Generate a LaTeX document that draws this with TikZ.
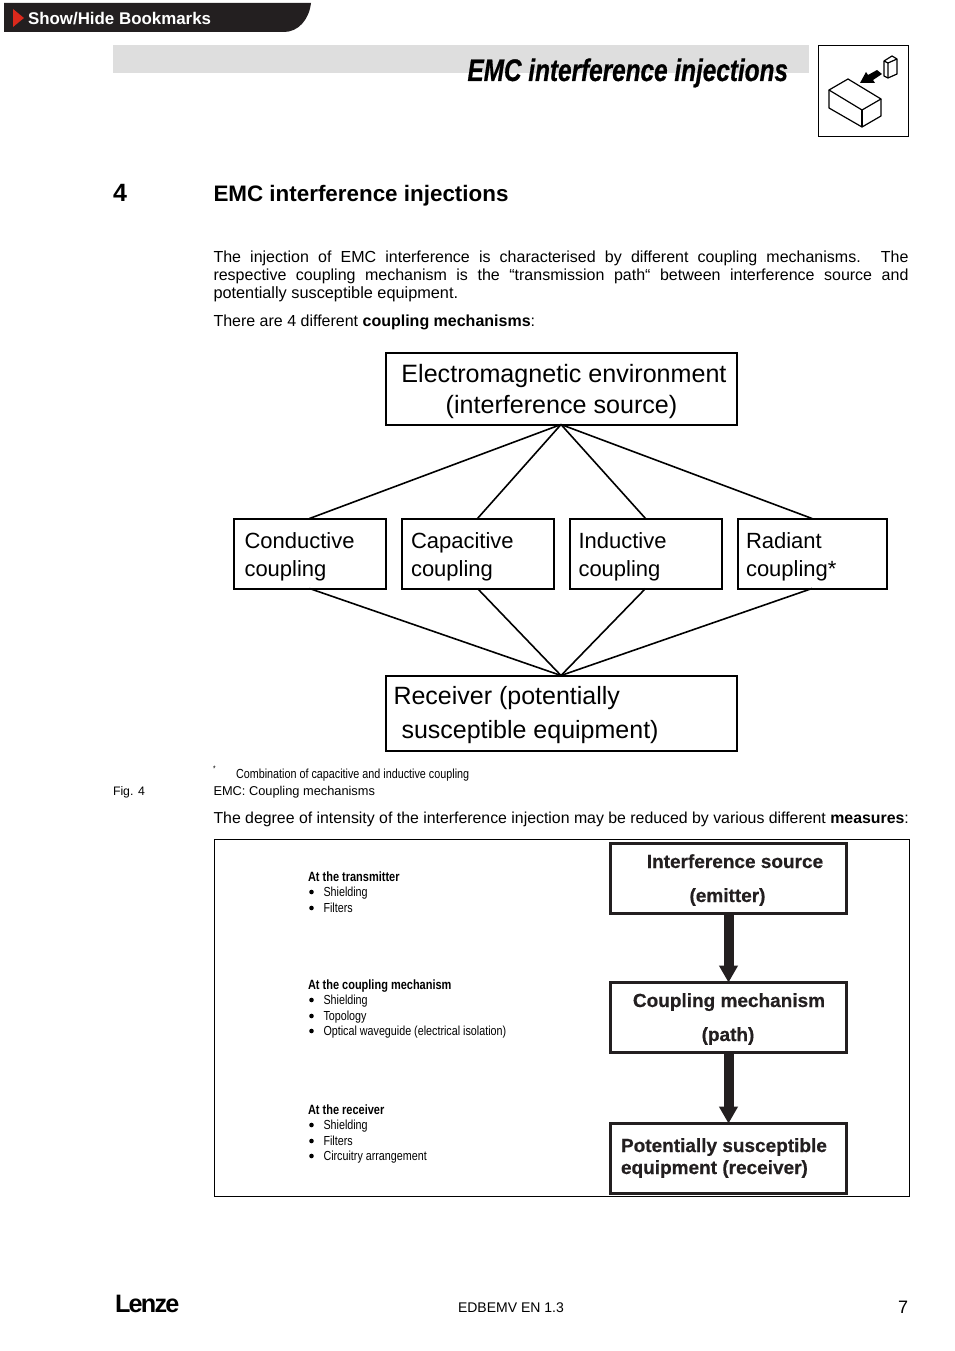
\documentclass[tikz,border=0pt]{standalone}
\usepackage{fontspec}
\setmainfont{Liberation Sans}
\newfontfamily\narrowf[FakeStretch=0.82]{Liberation Sans}
\newfontfamily\titlef[FakeStretch=0.78,FakeBold=0.6]{Liberation Sans}
\newfontfamily\heavyf[FakeBold=0.5]{Liberation Sans}
\usetikzlibrary{arrows.meta}
\definecolor{barblack}{HTML}{231F20}
\definecolor{bargray}{HTML}{DEDEDE}
\definecolor{tri}{HTML}{DA291C}
\tikzset{
  txt/.style={anchor=base west,inner sep=0pt,outer sep=0pt},
  fs/.style={font=\fontsize{#1}{#1}\selectfont},
  bigbox/.style={draw=black,line width=2pt,fill=white,inner sep=0pt,outer sep=0pt},
  flowbox/.style={draw=barblack,line width=3pt,fill=white,inner sep=0pt,outer sep=0pt},
  thin line/.style={draw=black,line width=1.6pt},
  thick arrow/.style={draw=barblack,line width=10pt,-{Triangle[length=17pt,width=18pt]}},
  bul/.style={circle,fill=black,inner sep=0pt,minimum size=4.6pt},
}
\begin{document}
\begin{tikzpicture}[x=1pt,y=-1pt]
\useasboundingbox (0,0) rectangle (954,1351);
% bookmark bar
\fill[barblack] (4,3) -- (311,3) .. controls (309,20) and (298,32) .. (284,32) -- (4,32) -- cycle;
\fill[tri] (13,9) -- (24,18) -- (13,27) -- cycle;
\node[txt,text=white,font=\bfseries\fontsize{16.9}{17}\selectfont] (bm) at (28,24.5) {Show/Hide Bookmarks};
% header
\fill[bargray] (113,45) rectangle (809,73);
\node[txt,anchor=base east,font=\titlef\bfseries\itshape\fontsize{31.2}{31}\selectfont] (hd) at (788,81) {EMC interference injections};
\draw[line width=0.9pt] (818.5,45.5) rectangle (908.5,136.5);
% icon
\begin{scope}[line width=1.2pt,line join=round]
\draw (829,90) -- (848,79) -- (881,99) -- (862,110) -- cycle;
\draw (829,90) -- (829,108) -- (862,127) -- (881,116) -- (881,99);
\draw (862,110) -- (862,127);
\draw (884,61) -- (892,56) -- (897,59) -- (897,74) -- (888,78) -- (884,76) -- cycle;
\draw (884,61) -- (888,63) -- (888,78);
\draw (888,63) -- (897,59);
\end{scope}
\fill[black] (860,83) -- (866,72) -- (868,75) -- (877,70) -- (882,74) -- (873,80) -- (875,83) -- cycle;
% heading
\node[txt,font=\bfseries\fontsize{25}{25}\selectfont] (num) at (113,201) {4};
\node[txt,font=\bfseries\fontsize{22.4}{22}\selectfont] (h1) at (213.5,201) {EMC interference injections};
\node[txt,fs=16] (p1l) at (213.5,262) {\makebox[695pt][s]{The injection of EMC interference is characterised by different coupling mechanisms. The}};
\node[txt,fs=16] (p2l) at (213.5,280) {\makebox[695pt][s]{respective coupling mechanism is the “transmission path“ between interference source and}};
\node[txt,fs=16.3] (p3l) at (213.5,298) {potentially susceptible equipment.};
\node[txt,fs=16] (t4) at (213.5,326) {There are 4 different \textbf{coupling mechanisms}:};
% first diagram
\node[bigbox,minimum width=351pt,minimum height=72pt] (env) at (561,388.5) {};
\node[txt,anchor=base,fs=25.1] (e1) at (564,382.5) {Electromagnetic environment};
\node[txt,anchor=base,fs=25.1] (e2) at (561.5,413.5) {(interference source)};
\node[bigbox,minimum width=152pt,minimum height=70pt] (con) at (309.5,553.5) {};
\node[bigbox,minimum width=152pt,minimum height=70pt] (cap) at (477.5,553.5) {};
\node[bigbox,minimum width=152pt,minimum height=70pt] (ind) at (645.5,553.5) {};
\node[bigbox,minimum width=149pt,minimum height=70pt] (rad) at (812,553.5) {};
\node[bigbox,minimum width=351pt,minimum height=75pt] (rec) at (561,713) {};
\foreach \n in {con,cap,ind,rad}{
  \draw[thin line] (env.south) -- (\n.north);
  \draw[thin line] (rec.north) -- (\n.south);
}
\node[txt,fs=22] (l1a) at (244.5,548) {Conductive};
\node[txt,fs=22] (l1b) at (244.5,576) {coupling};
\node[txt,fs=22] (l2a) at (411,548) {Capacitive};
\node[txt,fs=22] (l2b) at (411,576) {coupling};
\node[txt,fs=22] (l3a) at (578.5,548) {Inductive};
\node[txt,fs=22] (l3b) at (578.5,576) {coupling};
\node[txt,fs=22] (l4a) at (746,548) {Radiant};
\node[txt,fs=22] (l4b) at (746,576) {coupling*};
\node[txt,fs=25] (r1) at (393.5,704.5) {Receiver (potentially};
\node[txt,fs=25] (r2) at (401.5,738.5) {susceptible equipment)};
% notes
\node[txt,font=\narrowf\fontsize{8}{8}\selectfont] (star) at (213,771) {*};
\node[txt,font=\narrowf\fontsize{13.15}{14}\selectfont] (note) at (236,778) {Combination of capacitive and inductive coupling};
\node[txt,fs=12.3] (fig) at (113,795.5) {Fig. 4};
\node[txt,fs=12.8] (cap4) at (213.5,795.5) {EMC: Coupling mechanisms};
\node[txt,font=\fontsize{15.86}{16}\selectfont] (deg) at (213.5,823) {The degree of intensity of the interference injection may be reduced by various different \textbf{measures}:};
% second diagram
\draw[line width=0.9pt] (214.5,839) rectangle (909.5,1196.5);
\node[flowbox,minimum width=236pt,minimum height=70pt] (src) at (728.5,878.5) {};
\node[flowbox,minimum width=236pt,minimum height=70pt] (cpl) at (728.5,1017.5) {};
\node[flowbox,minimum width=236pt,minimum height=70pt] (pot) at (728.5,1158.5) {};
\draw[thick arrow] (src.south) -- (cpl.north);
\draw[thick arrow] (cpl.south) -- (pot.north);
\begin{scope}[font=\heavyf\bfseries\fontsize{19}{19}\selectfont,text=barblack]
\node[txt,anchor=base] (s1) at (735,868) {Interference source};
\node[txt,anchor=base] (s2) at (727.5,902) {(emitter)};
\node[txt,anchor=base] (c1) at (729,1007) {Coupling mechanism};
\node[txt,anchor=base] (c2) at (728,1041) {(path)};
\node[txt] (p1) at (621,1152) {Potentially susceptible};
\node[txt] (p2) at (621,1174) {equipment (receiver)};
\end{scope}
\begin{scope}[font=\narrowf\fontsize{13.1}{14}\selectfont]
\node[txt,font=\narrowf\bfseries\fontsize{13.4}{14}\selectfont] (a0) at (308,881) {At the transmitter};
\node[txt] (a1) at (323.5,896) {Shielding};
\node[txt] (a2) at (323.5,912) {Filters};
\node[txt,font=\narrowf\bfseries\fontsize{13.4}{14}\selectfont] (b0) at (308,989) {At the coupling mechanism};
\node[txt] (b1) at (323.5,1004) {Shielding};
\node[txt] (b2) at (323.5,1020) {Topology};
\node[txt] (b3) at (323.5,1035) {Optical waveguide (electrical isolation)};
\node[txt,font=\narrowf\bfseries\fontsize{13.4}{14}\selectfont] (c0) at (308,1114) {At the receiver};
\node[txt] (d1) at (323.5,1129) {Shielding};
\node[txt] (d2) at (323.5,1145) {Filters};
\node[txt] (d3) at (323.5,1160) {Circuitry arrangement};
\end{scope}
\foreach \y/\m in {892/k1,908/k2,1000/k3,1016/k4,1031/k5,1125/k6,1141/k7,1156/k8}
  \node[bul] (\m) at (311.5,\y) {};
% footer
\node[txt,font=\bfseries\fontsize{25.2}{26}\selectfont] (lz) at (115,1312) {\addfontfeature{LetterSpace=-7}Lenze};
\node[txt,fs=14] (ed) at (458,1312) {EDBEMV EN 1.3};
\node[txt,anchor=base east,fs=18] (pg) at (908,1313) {7};
\end{tikzpicture}
\end{document}
